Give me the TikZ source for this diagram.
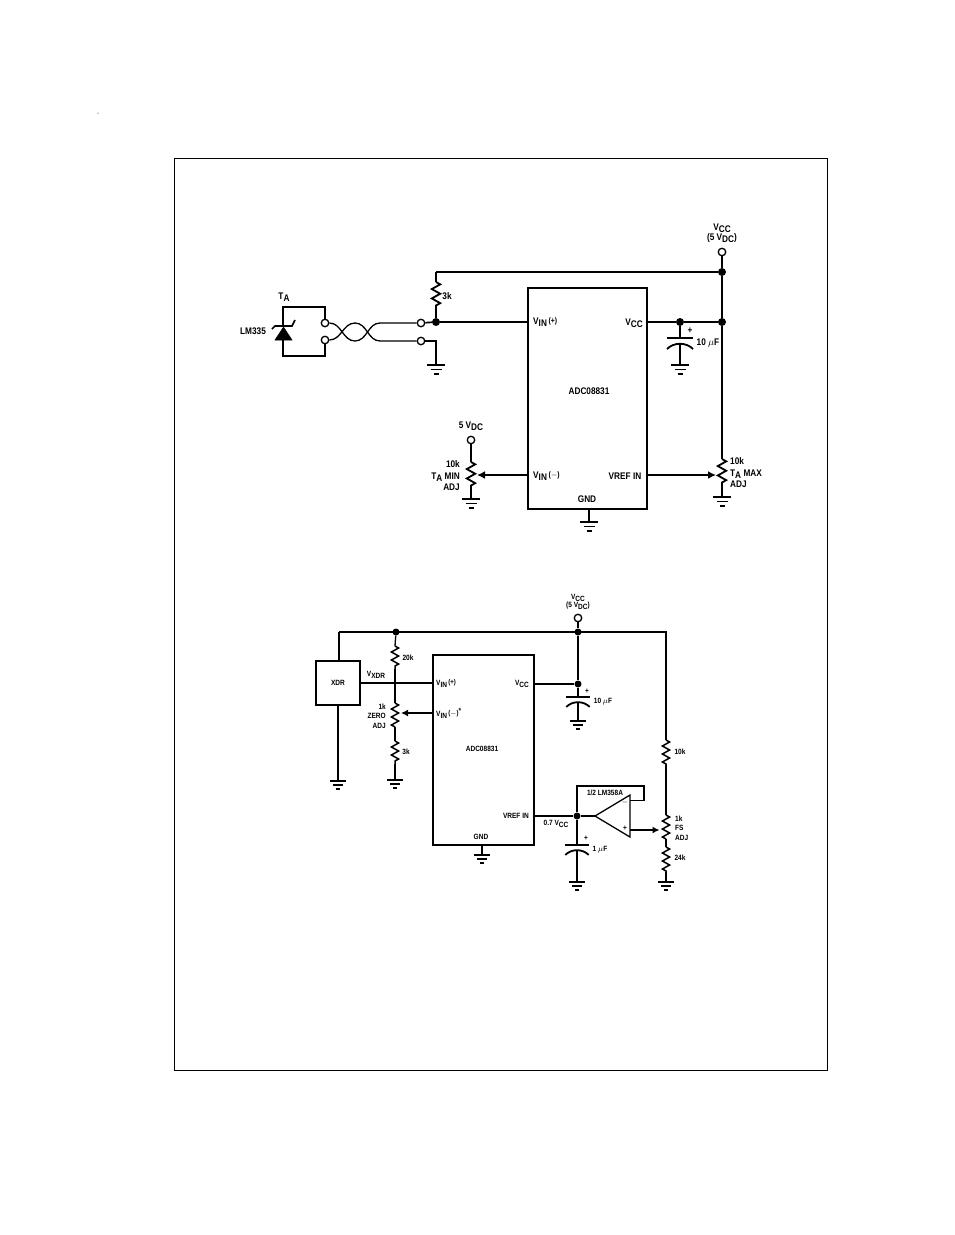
\documentclass[tikz,border=0pt]{standalone}
\usepackage{fontspec}
\setmainfont[FakeStretch=0.86]{Liberation Sans}
\usetikzlibrary{decorations.pathmorphing}
\usetikzlibrary{arrows.meta}
\tikzset{>=latex}
\tikzstyle{wire}  = [line width=1.7pt]
\tikzstyle{wireb} = [line width=1.3pt]
\tikzstyle{arrow} = [->, wire, >={Latex[length=8pt,width=8pt]}]
\tikzstyle{arrowb} = [->, wireb, >={Latex[length=7pt,width=7pt]}]
\tikzstyle{zig}   = [line width=1.8pt, decorate,
                     decoration={zigzag, segment length=9.4pt, amplitude=4.2pt}]
\tikzstyle{zigb}  = [line width=1.5pt, decorate,
                     decoration={zigzag, segment length=8pt, amplitude=3.6pt}]
\tikzstyle{dot}   = [circle, fill=black, inner sep=0pt, minimum size=8pt]
\tikzstyle{dotb}  = [circle, fill=black, inner sep=0pt, minimum size=7pt]
\tikzstyle{term}  = [circle, draw, line width=1.3pt, fill=white, inner sep=0pt, minimum size=7.5pt]
\tikzstyle{lbl}   = [inner sep=0pt, align=center, font=\fontsize{9.6pt}{11.5pt}\selectfont\bfseries]
\tikzstyle{lblb}  = [inner sep=0pt, align=center, font=\fontsize{7.6pt}{9.5pt}\selectfont\bfseries]
\tikzset{gnd/.pic={
    \draw[line width=1.8pt] (-9,0) -- (9,0);
    \draw[line width=1.8pt] (-5.5,4.5) -- (5.5,4.5);
    \draw[line width=1.8pt] (-2.5,9) -- (2.5,9);
}}
\tikzset{capplates/.pic={
    \draw[line width=1.8pt] (-13,0) -- (13,0);
    \draw[line width=1.8pt] (-13,11) .. controls (-6,4) and (6,4) .. (13,11);
}}
\newcommand{\lowtxt}[1]{\raisebox{-2pt}{#1}}
\newcommand{\paren}[2][7pt]{\,\raisebox{1pt}{\fontsize{#1}{#1}\selectfont(#2)}}
\begin{document}
\begin{tikzpicture}[x=1pt,y=-1pt]
  \useasboundingbox (0,0) rectangle (954,1235);

  % Frame
  \node[draw, line width=0.9pt, minimum width=653pt, minimum height=912.5pt, inner sep=0pt] (frame) at (501,614.5) {};
  \node[circle, fill=black, inner sep=0pt, minimum size=1pt] (speck) at (98,113) {};

  % Upper circuit: nodes
  \node[draw, wire, minimum width=119pt, minimum height=221pt, inner sep=0pt] (adca) at (587.5,398.5) {};
  \node[term] (vcca) at (722,252) {};
  \node[dot] (topa) at (722,272) {};
  \node[dot] (midr) at (722,322) {};
  \node[dot] (capa) at (680,322) {};
  \node[dot] (inp) at (436,322) {};
  \node[term] (t3) at (421,323) {};
  \node[term] (t4) at (421,341) {};
  \node[term] (t1) at (325,323) {};
  \node[term] (t2) at (325,340) {};
  \node[term] (fivev) at (471,440) {};
  \coordinate (corner) at (436,272);
  \coordinate (r3a) at (436,282);
  \coordinate (r3b) at (436,310);
  \coordinate (g4) at (436,341);
  \coordinate (gndin) at (436,365);
  \coordinate (capt) at (680,338);
  \coordinate (capm) at (680,344);
  \coordinate (gndcap) at (680,365);
  \coordinate (potra) at (722,459);
  \coordinate (potrb) at (722,487);
  \coordinate (gndr) at (722,497);
  \coordinate (potla) at (471,462);
  \coordinate (potlb) at (471,490);
  \coordinate (gndl) at (471,499);
  \coordinate (gndab) at (589,509);
  \coordinate (gndat) at (589,522);

  % Upper circuit: edges
  \draw[wire] (corner) -- (topa);
  \draw[wire] (vcca) -- (topa) -- (midr) -- (potra);
  \draw[wire] (corner) -- (r3a);
  \draw[zig] (r3a) -- (r3b);
  \draw[wire] (r3b) -- (inp);
  \draw[wire] (t3) -- (inp);
  \draw[wire] (inp) -- (adca.west |- inp);
  \draw[wire] (adca.east |- midr) -- (capa);
  \draw[wire] (capa) -- (midr);
  \draw[wire] (capa) -- (capt);
  \draw[wire] (capm) -- (gndcap);
  \draw[wire] (t4) -- (g4) -- (gndin);
  \draw[zig] (potra) -- (potrb);
  \draw[wire] (potrb) -- (gndr);
  \draw[wire] (fivev) -- (potla);
  \draw[zig] (potla) -- (potlb);
  \draw[wire] (potlb) -- (gndl);
  \draw[wire] (gndab) -- (gndat);
  \draw[arrow] (adca.east |- 0,475) -- (716,475);
  \draw[arrow] (adca.west |- 0,475) -- (477,475);
  \pic at (gndin) {gnd};
  \pic at (gndcap) {gnd};
  \pic at (gndr) {gnd};
  \pic at (gndl) {gnd};
  \pic at (gndat) {gnd};
  \pic at (capt) {capplates};

  % Sensor and twisted pair
  \coordinate (sa) at (283,307);
  \coordinate (sb) at (283,356);
  \coordinate (tw2) at (380,323);
  \coordinate (tw3) at (380,341);
  \draw[wire] (t1) -- (t1 |- sa) -- (sa) -- (283,326);
  \draw[wire] (t2) -- (t2 |- sb) -- (sb) -- (283,340);
  \draw[fill=black, line width=0.5pt] (283.5,327) -- (292,340) -- (275,340) -- cycle;
  \draw[wire] (272,329) -- (275,326) -- (292,326) -- (295,320);
  \draw[line width=1.3pt] (t1) to[out=0,in=180] (355,341) to[out=0,in=180] (tw2) -- (t3);
  \draw[line width=1.3pt] (t2) to[out=0,in=180] (355,323) to[out=0,in=180] (tw3) -- (t4);

  % Upper circuit: labels
  \node[lbl] (lta) at (284,297) {T\lowtxt{A}};
  \node[lbl] (llm) at (253,331) {LM335};
  \node[lbl] (l3k) at (447,296) {3k};
  \node[lbl] (lvcca) at (722,233) {V\lowtxt{CC}\\[-1pt](5 V\lowtxt{DC})};
  \node[lbl, anchor=west] (lvin) at (533,322) {V\lowtxt{IN}\paren[8pt]{+}};
  \node[lbl] (lvcc) at (634,323) {V\lowtxt{CC}};
  \node[lbl] (ladc) at (589,391) {ADC08831};
  \node[lbl, anchor=west] (lvim) at (533,476) {V\lowtxt{IN}\paren[8pt]{$-$}};
  \node[lbl] (lref) at (625,476) {VREF IN};
  \node[lbl] (lgnd) at (587,499) {GND};
  \node[lbl] (lcp) at (690,331) {+};
  \node[lbl] (lcap) at (708,343) {10 $\mu$F};
  \node[lbl] (l5v) at (471,426) {5 V\lowtxt{DC}};
  \node[lbl, anchor=east, align=right] (lmin) at (460,476) {10k\\T\lowtxt{A} MIN\\ADJ};
  \node[lbl, anchor=west, align=left] (lmax) at (730,473) {10k\\T\lowtxt{A} MAX\\ADJ};

  % Lower circuit: nodes
  \node[draw, wireb, minimum width=101pt, minimum height=190pt, inner sep=0pt] (adcb) at (483.5,750) {};
  \node[draw, wireb, minimum width=44pt, minimum height=44pt, inner sep=0pt] (xdr) at (338,683) {};
  \node[term] (vccb) at (578,618) {};
  \node[dotb] (topb) at (578,632) {};
  \node[dotb] (topc) at (396,632) {};
  \node[dotb] (vccj) at (578,684) {};
  \node[dotb] (refj) at (577,816) {};
  \coordinate (raill) at (339,632);
  \coordinate (railr) at (666,632);
  \coordinate (r20a) at (395,646);
  \coordinate (r20b) at (395,669);
  \coordinate (pz) at (395,703);
  \coordinate (pzb) at (395,727);
  \coordinate (r3ka) at (395,741);
  \coordinate (r3kb) at (395,764);
  \coordinate (gz) at (395,780);
  \coordinate (gx) at (338,781);
  \coordinate (gb) at (482,855);
  \coordinate (capc) at (578,697);
  \coordinate (capd) at (578,702);
  \coordinate (gc) at (578,721);
  \coordinate (cape) at (577,845);
  \coordinate (capf) at (577,851);
  \coordinate (gd) at (577,882);
  \coordinate (r10a) at (666,740);
  \coordinate (r10b) at (666,765);
  \coordinate (fsa) at (666,815);
  \coordinate (fsb) at (666,839);
  \coordinate (r24a) at (666,847);
  \coordinate (r24b) at (666,872);
  \coordinate (gr) at (666,882);
  \coordinate (tip) at (595,816);
  \coordinate (opu) at (630,795);
  \coordinate (opl) at (630,837);
  \coordinate (fbi) at (630,800.5);
  \coordinate (fbo) at (630,830);
  \coordinate (fb1) at (577,786);
  \coordinate (fb2) at (644,786);
  \coordinate (fb3) at (644,800.5);

  % Lower circuit: edges
  \draw[wireb] (raill) -- (railr) -- (r10a);
  \draw[wireb] (raill) -- (xdr.north -| raill);
  \draw[wireb] (vccb) -- (topb) -- (vccj) -- (capc);
  \draw[wireb] (topc) -- (r20a);
  \draw[zigb] (r20a) -- (r20b);
  \draw[wireb] (r20b) -- (pz);
  \draw[zigb] (pz) -- (pzb);
  \draw[wireb] (pzb) -- (r3ka);
  \draw[zigb] (r3ka) -- (r3kb);
  \draw[wireb] (r3kb) -- (gz);
  \draw[wireb] (xdr) -- (gx);
  \draw[wireb] (xdr.east) -- (adcb.west |- xdr.east);
  \draw[arrowb] (adcb.west |- 0,713) -- (401,713);
  \draw[wireb] (adcb.south -| gb) -- (gb);
  \draw[wireb] (adcb.east |- vccj) -- (vccj);
  \draw[wireb] (capd) -- (gc);
  \draw[wireb] (adcb.east |- refj) -- (refj) -- (tip);
  \draw[wireb] (refj) -- (cape);
  \draw[wireb] (capf) -- (gd);
  \draw[wireb] (refj) -- (fb1) -- (fb2) -- (fb3) -- (fbi);
  \draw[wireb] (tip) -- (opu) -- (opl) -- cycle;
  \draw[arrowb] (fbo) -- (659.5,830);
  \draw[zigb] (r10a) -- (r10b);
  \draw[wireb] (r10b) -- (fsa);
  \draw[zigb] (fsa) -- (fsb);
  \draw[wireb] (fsb) -- (r24a);
  \draw[zigb] (r24a) -- (r24b);
  \draw[wireb] (r24b) -- (gr);
  \pic[scale=0.85] at (gz) {gnd};
  \pic[scale=0.85] at (gx) {gnd};
  \pic[scale=0.85] at (gb) {gnd};
  \pic[scale=0.85] at (gc) {gnd};
  \pic[scale=0.85] at (gd) {gnd};
  \pic[scale=0.85] at (gr) {gnd};
  \pic[scale=0.9] at (capc) {capplates};
  \pic[scale=0.9] at (cape) {capplates};

  % Lower circuit: labels
  \node[lblb] (lvccb) at (578,602) {V\lowtxt{CC}\\[-1.5pt](5 V\lowtxt{DC})};
  \node[lblb] (lxdr) at (338,683) {XDR};
  \node[lblb] (lvx) at (376,675) {V\lowtxt{XDR}};
  \node[lblb] (l20k) at (408,658) {20k};
  \node[lblb, anchor=east, align=right] (lzero) at (386,716) {1k\\ZERO\\ADJ};
  \node[lblb] (l3kb) at (406,752) {3k};
  \node[lblb, anchor=west] (lvip) at (436,683) {V\lowtxt{IN}\paren{+}};
  \node[lblb, anchor=west] (lvin2) at (436,713) {V\lowtxt{IN}\paren{$-$}\raisebox{3pt}{*}};
  \node[lblb] (ladcb) at (482,749) {ADC08831};
  \node[lblb] (lgndb) at (481,837) {GND};
  \node[lblb, anchor=east] (lvb) at (529,684) {V\lowtxt{CC}};
  \node[lblb, anchor=east] (lrefb) at (529,816) {VREF IN};
  \node[lblb] (l07) at (556,824) {0.7 V\lowtxt{CC}};
  \node[lblb] (lcpa) at (587,691) {+};
  \node[lblb] (lcapa) at (603,702) {10 $\mu$F};
  \node[lblb] (lcpb) at (586,838) {+};
  \node[lblb] (lcapb) at (600,850) {1 $\mu$F};
  \node[lblb] (llm3) at (605,793) {1/2 LM358A};
  \node[lblb] (lminus) at (625,802) {$-$};
  \node[lblb] (lplus) at (625,828) {+};
  \node[lblb] (l10k) at (680,752) {10k};
  \node[lblb, anchor=west, align=left] (lfs) at (675,828) {1k\\FS\\ADJ};
  \node[lblb] (l24k) at (680,858) {24k};

\end{tikzpicture}
\end{document}
